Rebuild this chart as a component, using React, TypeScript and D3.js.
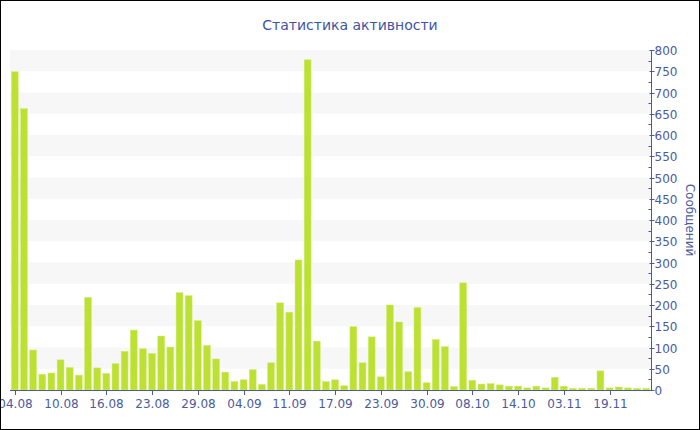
import React, { useRef, useEffect } from 'react';
import * as d3 from 'd3';

const dates = [
  '04.08', '05.08', '06.08', '07.08', '08.08', '10.08', '11.08', '12.08', '13.08', '14.08',
  '16.08', '17.08', '18.08', '20.08', '21.08', '23.08', '24.08', '25.08', '26.08', '27.08',
  '29.08', '30.08', '31.08', '01.09', '02.09', '04.09', '05.09', '07.09', '08.09', '09.09',
  '11.09', '12.09', '13.09', '14.09', '15.09', '17.09', '18.09', '19.09', '20.09', '21.09',
  '23.09', '24.09', '26.09', '27.09', '28.09', '30.09', '01.10', '03.10', '05.10', '06.10',
  '08.10', '09.10', '10.10', '11.10', '12.10', '14.10', '17.10', '21.10', '25.10', '29.10',
  '03.11', '06.11', '09.11', '12.11', '15.11', '19.11', '21.11', '24.11', '26.11', '28.11',
];

const messages = [
  749, 662, 94, 37, 40, 71, 53, 35, 218, 52,
  39, 62, 91, 141, 97, 86, 127, 101, 229, 222,
  163, 105, 73, 42, 20, 24, 48, 13, 64, 205,
  183, 306, 777, 115, 20, 24, 10, 149, 64, 125,
  31, 200, 160, 43, 194, 17, 119, 102, 8, 252,
  23, 14, 15, 12, 9, 9, 5, 9, 5, 30,
  9, 4, 4, 4, 45, 5, 7, 5, 4, 4,
];

const yTicks = d3.range(0, 801, 50);
const yMinorTicks = d3.range(25, 800, 50);
const bandStarts = d3.range(50, 800, 100);

const title = 'Статистика активности';
const yTitle = 'Сообщений';

const W = 700;
const H = 430;
const FONT = '"DejaVu Sans", Verdana, sans-serif';
const AXIS = '#4a5b9c';

export default function App() {
  const ref = useRef<SVGSVGElement | null>(null);

  useEffect(() => {
    document.body.style.margin = '0';
    if (!ref.current) return;
    const svg = d3.select(ref.current);
    svg.selectAll('*').remove();

    const m = { left: 10, right: 651, top: 50, bottom: 390 };

    const x = d3.scaleBand<number>()
      .domain(d3.range(messages.length))
      .range([m.left, m.right])
      .paddingInner(0.25)
      .paddingOuter(0.15);
    const y = d3.scaleLinear().domain([0, 800]).range([m.bottom, m.top]);

    svg.append('rect')
      .attr('x', 0).attr('y', 0).attr('width', W).attr('height', H)
      .attr('fill', '#fff');

    // alternating bands
    svg.append('g').selectAll('rect')
      .data(bandStarts)
      .join('rect')
      .attr('x', m.left)
      .attr('width', m.right - m.left)
      .attr('y', d => y(d + 50))
      .attr('height', d => y(d) - y(d + 50))
      .attr('fill', '#f7f7f7');

    // bars
    svg.append('g').selectAll('rect')
      .data(messages)
      .join('rect')
      .attr('x', (_, i) => x(i)!)
      .attr('width', x.bandwidth())
      .attr('y', d => y(d))
      .attr('height', d => y(0) - y(d))
      .attr('fill', '#bde132')
      .attr('stroke', '#d2ec74')
      .attr('stroke-width', 0.5);

    // x axis
    const xAxis = svg.append('g');
    xAxis.append('line')
      .attr('x1', m.left).attr('x2', m.right)
      .attr('y1', m.bottom + 0.5).attr('y2', m.bottom + 0.5)
      .attr('stroke', AXIS);
    const xt = xAxis.selectAll('g')
      .data(d3.range(0, messages.length, 5))
      .join('g')
      .attr('transform', i => `translate(${Math.round(x(i)! + x.bandwidth() / 2) + 0.5},${m.bottom})`);
    xt.append('line').attr('y1', 0).attr('y2', 5).attr('stroke', AXIS);
    xt.append('text')
      .attr('y', 18)
      .attr('text-anchor', 'middle')
      .attr('fill', AXIS)
      .style('font-family', FONT)
      .style('font-size', '12px')
      .text(i => dates[i]);

    // y axis on the right
    const yAxis = svg.append('g').attr('transform', `translate(${m.right + 0.5},0)`);
    yAxis.append('line')
      .attr('y1', m.top).attr('y2', m.bottom)
      .attr('stroke', AXIS);
    yAxis.selectAll('line.minor')
      .data(yMinorTicks)
      .join('line')
      .attr('class', 'minor')
      .attr('x1', -3).attr('x2', 0)
      .attr('y1', d => Math.round(y(d)) + 0.5).attr('y2', d => Math.round(y(d)) + 0.5)
      .attr('stroke', AXIS);
    const yt = yAxis.selectAll('g')
      .data(yTicks)
      .join('g')
      .attr('transform', d => `translate(0,${Math.round(y(d)) + 0.5})`);
    yt.append('line').attr('x1', -2).attr('x2', 3).attr('stroke', AXIS);
    yt.append('text')
      .attr('x', 3)
      .attr('dy', '0.35em')
      .attr('fill', AXIS)
      .style('font-family', FONT)
      .style('font-size', '12px')
      .text(d => d);

    svg.append('text')
      .attr('transform', `translate(686,${(m.top + m.bottom) / 2}) rotate(90)`)
      .attr('text-anchor', 'middle')
      .attr('fill', AXIS)
      .style('font-family', FONT)
      .style('font-size', '12px')
      .text(yTitle);

    svg.append('text')
      .attr('x', W / 2)
      .attr('y', 30)
      .attr('text-anchor', 'middle')
      .attr('fill', '#3e54a3')
      .style('font-family', FONT)
      .style('font-size', '14px')
      .text(title);

    svg.append('rect')
      .attr('x', 0.5).attr('y', 0.5).attr('width', W - 1).attr('height', H - 1)
      .attr('fill', 'none')
      .attr('stroke', '#000');
  }, []);

  return <svg ref={ref} width={W} height={H} style={{ display: 'block' }} />;
}
